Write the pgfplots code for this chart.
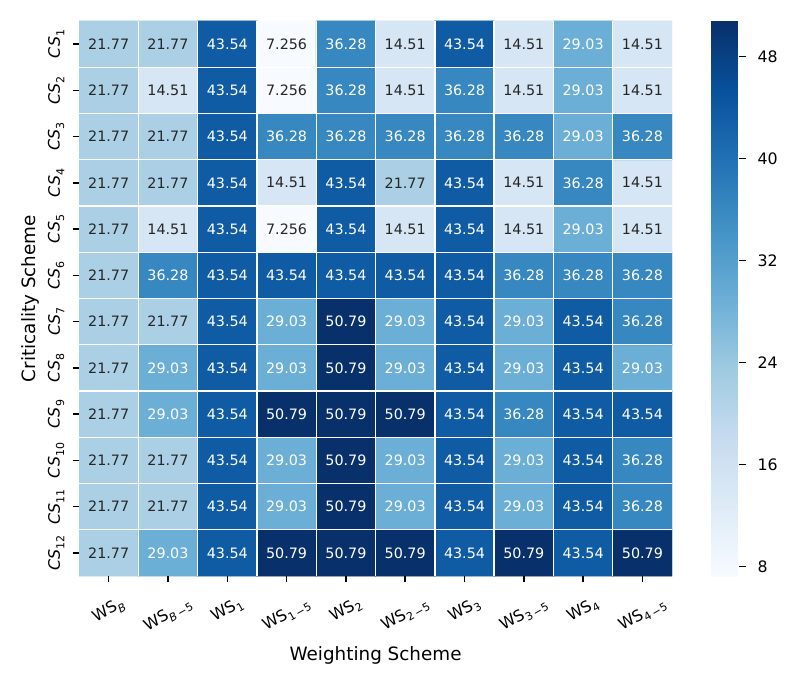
\documentclass[border=0pt]{standalone}
\usepackage{pgfplots}
\pgfplotsset{compat=1.18}
\usepackage{pgfplotstable}
\usepackage{fontspec}
\setmainfont{DejaVu Sans}

\newcommand\sub[1]{\raisebox{-0.28em}{\fontsize{6}{6}\selectfont #1}}
\newcommand\ylab[1]{\rotatebox{90}{{\itshape CS}\sub{#1}}}
\newcommand\xlab[1]{\rotatebox{30}{WS\sub{#1}}}

\definecolor{annotdark}{RGB}{38,38,38}

% x = weighting scheme, y = criticality scheme (CS12 at y=0 ... CS1 at y=11)
\pgfplotstableread{
x y v
0 0 21.77
1 0 29.03
2 0 43.54
3 0 50.79
4 0 50.79
5 0 50.79
6 0 43.54
7 0 50.79
8 0 43.54
9 0 50.79
0 1 21.77
1 1 21.77
2 1 43.54
3 1 29.03
4 1 50.79
5 1 29.03
6 1 43.54
7 1 29.03
8 1 43.54
9 1 36.28
0 2 21.77
1 2 21.77
2 2 43.54
3 2 29.03
4 2 50.79
5 2 29.03
6 2 43.54
7 2 29.03
8 2 43.54
9 2 36.28
0 3 21.77
1 3 29.03
2 3 43.54
3 3 50.79
4 3 50.79
5 3 50.79
6 3 43.54
7 3 36.28
8 3 43.54
9 3 43.54
0 4 21.77
1 4 29.03
2 4 43.54
3 4 29.03
4 4 50.79
5 4 29.03
6 4 43.54
7 4 29.03
8 4 43.54
9 4 29.03
0 5 21.77
1 5 21.77
2 5 43.54
3 5 29.03
4 5 50.79
5 5 29.03
6 5 43.54
7 5 29.03
8 5 43.54
9 5 36.28
0 6 21.77
1 6 36.28
2 6 43.54
3 6 43.54
4 6 43.54
5 6 43.54
6 6 43.54
7 6 36.28
8 6 36.28
9 6 36.28
0 7 21.77
1 7 14.51
2 7 43.54
3 7 7.256
4 7 43.54
5 7 14.51
6 7 43.54
7 7 14.51
8 7 29.03
9 7 14.51
0 8 21.77
1 8 21.77
2 8 43.54
3 8 14.51
4 8 43.54
5 8 21.77
6 8 43.54
7 8 14.51
8 8 36.28
9 8 14.51
0 9 21.77
1 9 21.77
2 9 43.54
3 9 36.28
4 9 36.28
5 9 36.28
6 9 36.28
7 9 36.28
8 9 29.03
9 9 36.28
0 10 21.77
1 10 14.51
2 10 43.54
3 10 7.256
4 10 36.28
5 10 14.51
6 10 36.28
7 10 14.51
8 10 29.03
9 10 14.51
0 11 21.77
1 11 21.77
2 11 43.54
3 11 7.256
4 11 36.28
5 11 14.51
6 11 43.54
7 11 14.51
8 11 29.03
9 11 14.51
}\scores

\pgfplotsset{
  cell label/.style={only marks, mark=none,
    point meta=explicit,
    /pgf/number format/assume math mode=true,
    nodes near coords={\pgfmathprintnumber[precision=4]{\pgfplotspointmeta}},
    every node near coord/.append style={anchor=center, inner sep=0pt,
      font=\fontsize{7.8}{8}\selectfont, text=#1},
  },
}

\begin{document}
\begin{tikzpicture}
\path[use as bounding box] (0,0) rectangle (432.7pt,371.7pt);
\begin{axis}[
  at={(43.06pt,57.77pt)}, anchor=south west,
  scale only axis, width=323.2pt, height=302.5pt,
  xmin=-0.5, xmax=9.5, ymin=-0.5, ymax=11.5,
  enlargelimits=false,
  axis line style={draw=none},
  axis on top,
  colormap={blues}{rgb255=(247,251,255) rgb255=(222,235,247) rgb255=(198,219,239)
    rgb255=(158,202,225) rgb255=(107,174,214) rgb255=(66,146,198)
    rgb255=(33,113,181) rgb255=(8,81,156) rgb255=(8,48,107)},
  point meta min=7.256, point meta max=50.79,
  xtick={0,...,9}, ytick={0,...,11},
  xticklabels={\xlab{\itshape B},\xlab{{\itshape B}\,−5},\xlab{1},\xlab{1\,−5},\xlab{2},
    \xlab{2\,−5},\xlab{3},\xlab{3\,−5},\xlab{4},\xlab{4\,−5}},
  yticklabels={\ylab{12},\ylab{11},\ylab{10},\ylab{9},\ylab{8},\ylab{7},
    \ylab{6},\ylab{5},\ylab{4},\ylab{3},\ylab{2},\ylab{1}},
  xticklabel style={anchor=north, yshift=-3.5pt, font=\fontsize{8.6}{9}\selectfont},
  yticklabel style={anchor=east, xshift=-1pt, font=\fontsize{8.6}{9}\selectfont},
  tick pos=left, tick align=outside,
  major tick length=3.5pt,
  tick style={black, line width=0.8pt},
  minor xtick={0.5,1.5,...,8.5}, minor ytick={0.5,1.5,...,10.5},
  minor tick length=0pt,
  xminorgrids, yminorgrids,
  minor grid style={white, line width=0.75pt},
  xlabel={Weighting Scheme}, ylabel={Criticality Scheme},
  label style={font=\fontsize{10}{12}\selectfont},
  xlabel style={at={(axis description cs:0.5,-0.1425)}, anchor=center},
  ylabel style={at={(axis description cs:-0.0826,0.5)}, anchor=center},
  colorbar,
  colorbar shift/.style={xshift=21.3pt},
  colorbar style={
    at={(parent axis.north east)}, anchor=north west,
    width=15.3pt,
    ytick={8,16,...,48},
    ytick pos=right,
    axis line style={draw=none},
    tick align=outside, major tick length=3.5pt,
    tick style={black, line width=0.8pt},
    yticklabel style={xshift=3pt, font=\fontsize{8.6}{9}\selectfont},
    /pgf/number format/assume math mode=true,
  },
]
\addplot[matrix plot*, mesh/cols=10, point meta=explicit] table[x=x, y=y, meta=v] {\scores};
% dark text on light cells, white text on dark cells
\addplot[cell label=annotdark, restrict expr to domain={\thisrow{v}}{0:25}]
  table[x=x, y=y, meta=v] {\scores};
\addplot[cell label=white, restrict expr to domain={\thisrow{v}}{25:100}]
  table[x=x, y=y, meta=v] {\scores};
\end{axis}
\end{tikzpicture}
\end{document}
